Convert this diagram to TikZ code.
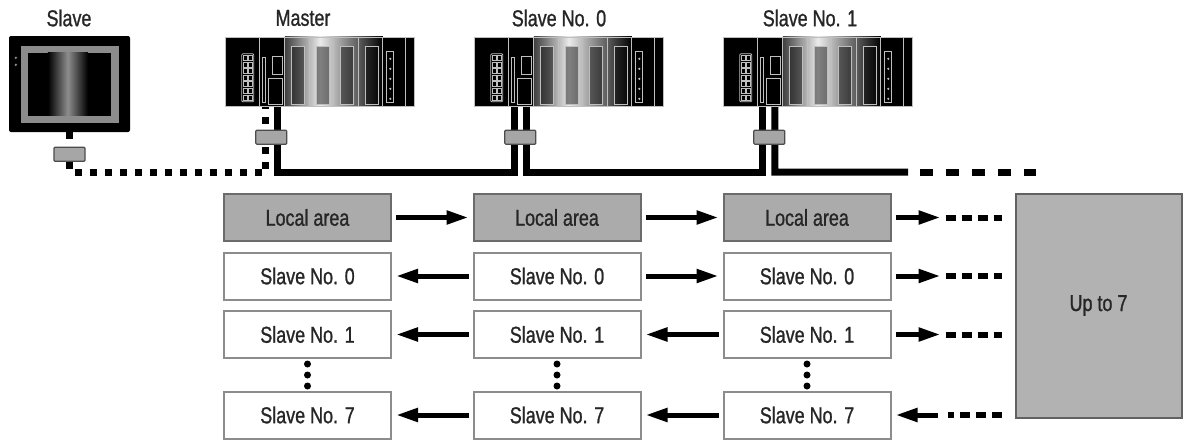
\documentclass[tikz,border=0pt]{standalone}
\usepackage{fontspec}
\newfontfamily\lblfont{Liberation Sans}[FakeStretch=0.78, FakeBold=1]
\usetikzlibrary{arrows.meta}

\tikzset{
  lbl/.style={font=\lblfont\fontsize{23}{26}\selectfont, text=black!85},
  cell/.style={lbl, draw=black!45, line width=2pt, fill=white,
    minimum width=167pt, minimum height=47pt, inner sep=0pt},
  local/.style={cell, fill=black!33, draw=black!58},
  upbox/.style={lbl, draw=black!62, line width=2pt, fill=black!30,
    minimum width=166pt, minimum height=224pt},
  rack/.style={fill=black, minimum width=190pt, minimum height=70pt, inner sep=0pt},
  screen/.style={fill=black, rounded corners=2pt, minimum width=121pt,
    minimum height=96pt, inner sep=0pt},
  tap/.style={fill=black!35, draw=black!70, line width=1.2pt, rounded corners=1pt,
    minimum width=31pt, minimum height=14pt, inner sep=0pt},
  flow/.style={line width=5pt, -{Triangle[length=22pt,width=13pt]},
    shorten <=4pt, shorten >=4pt},
  far/.style={line width=6pt, dash pattern=on 10pt off 6pt},
  bus/.style={line width=7pt},
  busdash/.style={line width=7pt, dash pattern=on 13pt off 13pt},
  hmilink/.style={line width=7pt, dash pattern=on 7pt off 8pt},
}

% modules of one rack, drawn over the rack node #1
\newcommand{\rackparts}[1]{%
  \begin{scope}[shift={(#1.north west)}, white!75!black, line width=0.8pt]
    \shade[left color=black!75, right color=black!8] (60,0) rectangle (95,70);
    \shade[left color=black!8, right color=black] (95,0) rectangle (158,70);
    % power supply
    \draw (0.5,0.5) rectangle (34.5,69.5);
    \draw[rounded corners=1pt] (17,17) rectangle (29,65);
    \foreach \r in {0,...,6} {
      \draw (18.5,18.5+6.6*\r) rectangle (22.5,23.5+6.6*\r);
      \draw (23.5,18.5+6.6*\r) rectangle (27.5,23.5+6.6*\r);
    }
    % cpu
    \draw (34.5,0.5) rectangle (60,69.5);
    \draw (38,21) rectangle (41,66);
    \draw (48,20) rectangle (58,38);
    \draw (44,42) rectangle (58,68);
    % i/o
    \foreach \m in {0,...,3} {
      \draw (60+24.5*\m,0.5) rectangle (84.5+24.5*\m,69.5);
      \draw[fill=black, fill opacity=0.45] (67+24.5*\m,10) rectangle (80+24.5*\m,68);
    }
    % link unit
    \draw (158,0.5) rectangle (181,69.5);
    \draw (162,15) rectangle (169,66);
    \foreach \r in {0,...,4} \fill (165.5,22+10*\r) circle (1.2pt);
    \draw (181,0.5) rectangle (189.5,69.5);
  \end{scope}}

\begin{document}
\begin{tikzpicture}[x=1pt, y=-1pt]
  \useasboundingbox (0,0) rectangle (1183,439);

  % stations
  \node[lbl] (thmi) at (69,18) {Slave};
  \node[lbl] (tmaster) at (303,18) {Master};
  \node[lbl] (tslave0) at (559,18) {Slave No. 0};
  \node[lbl] (tslave1) at (810,18) {Slave No. 1};

  \node[screen] (hmi) at (69.5,84) {};
  \begin{scope}[shift={(hmi.north west)}]
    \fill[black!45] (12,10) rectangle (110,87);
    \fill[black] (19,17) rectangle (102,80);
    \shade[left color=black, right color=black!45] (39,17) rectangle (59,80);
    \shade[left color=black!45, right color=black] (59,17) rectangle (79,80);
    \fill[black!45] (7,22) circle (1.3pt) (7,29) circle (1.3pt);
  \end{scope}

  \node[rack] (master) at (320,72) {};
  \node[rack] (sl0) at (569,72) {};
  \node[rack] (sl1) at (818,72) {};
  \rackparts{master}
  \rackparts{sl0}
  \rackparts{sl1}

  % network
  \draw[hmilink] (hmi.south) -- ++(0,40) -| ([xshift=41pt]master.south west);
  \draw[bus] ([xshift=53pt]master.south west) -- ++(0,65) -| ([xshift=41pt]sl0.south west);
  \draw[bus] ([xshift=53pt]sl0.south west) -- ++(0,65) -| ([xshift=40pt]sl1.south west);
  \coordinate (busend) at (908,172);
  \coordinate (busfar) at (1036,172);
  \draw[bus] ([xshift=52pt]sl1.south west) -- ++(0,65) -- (busend);
  \draw[busdash] (busend) ++(12,0) -- (busfar);

  \node[tap] (taph) at ([yshift=-22pt]hmi.south) {};
  \node[tap] (tapm) at ([xshift=46.5pt,yshift=-30pt]master.south west) {};
  \node[tap] (tap0) at ([xshift=46.5pt,yshift=-30pt]sl0.south west) {};
  \node[tap] (tap1) at ([xshift=46.5pt,yshift=-30pt]sl1.south west) {};

  % link areas
  \node[local] (mloc) at (307.5,217.5) {Local area};
  \node[cell] (ms0) at (307.5,276) {Slave No. 0};
  \node[cell] (ms1) at (307.5,334.5) {Slave No. 1};
  \node[cell] (ms7) at (307.5,415) {Slave No. 7};

  \node[local] (aloc) at (557,217.5) {Local area};
  \node[cell] (as0) at (557,276) {Slave No. 0};
  \node[cell] (as1) at (557,334.5) {Slave No. 1};
  \node[cell] (as7) at (557,415) {Slave No. 7};

  \node[local] (bloc) at (807,217.5) {Local area};
  \node[cell] (bs0) at (807,276) {Slave No. 0};
  \node[cell] (bs1) at (807,334.5) {Slave No. 1};
  \node[cell] (bs7) at (807,415) {Slave No. 7};

  \node[upbox] (upto) at (1098.5,305.5) {Up to 7};

  \foreach \c in {ms1,as1,bs1}
    \foreach \d in {5,16,27}
      \fill ([yshift=-\d pt]\c.south) circle (3.5pt);

  \draw[flow] (mloc) -- (aloc);
  \draw[flow] (aloc) -- (bloc);
  \draw[flow] (as0) -- (ms0);
  \draw[flow] (as0) -- (bs0);
  \draw[flow] (as1) -- (ms1);
  \draw[flow] (bs1) -- (as1);
  \draw[flow] (as7) -- (ms7);
  \draw[flow] (bs7) -- (as7);

  \foreach \c in {bloc,bs0,bs1} {
    \draw[flow, shorten >=0pt] (\c) -- ([xshift=49pt]\c.east);
    \draw[far] ([xshift=54pt]\c.east) -- ([xshift=-13pt]upto.west |- \c);
  }
  \draw[far] ([xshift=-13pt]upto.west |- bs7) -- ([xshift=56pt]bs7.east);
  \draw[flow, shorten <=0pt] ([xshift=46pt]bs7.east) -- (bs7);
\end{tikzpicture}
\end{document}
